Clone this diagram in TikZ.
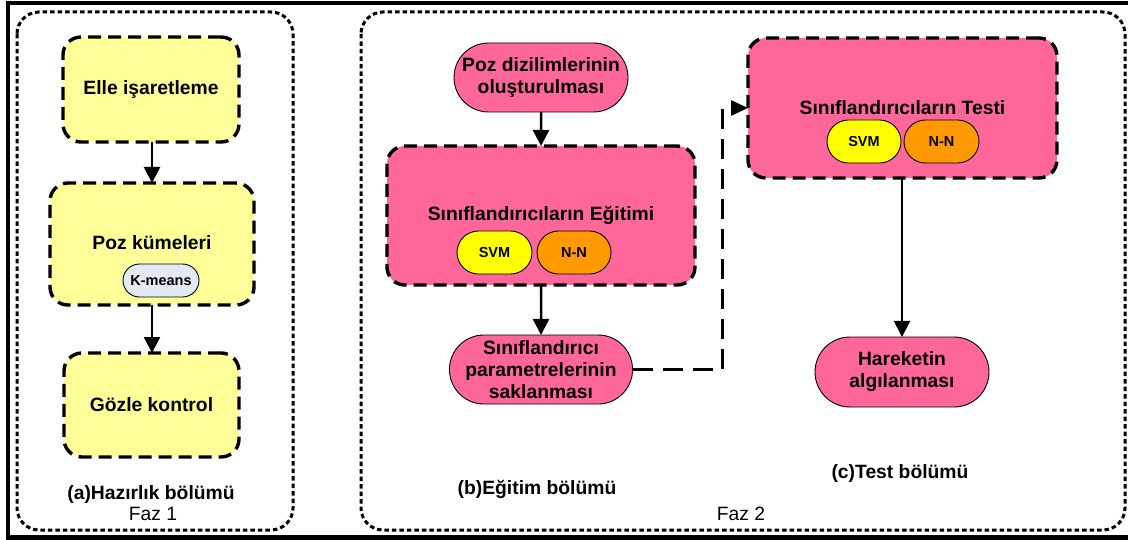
\documentclass[tikz,border=0pt]{standalone}
\usepackage{fontspec}
\setmainfont{Liberation Sans}
\usetikzlibrary{arrows.meta,shapes.misc}

\definecolor{boxyellow}{HTML}{FFFF99}
\definecolor{boxpink}{HTML}{FF6699}
\definecolor{chipyellow}{HTML}{FFFF00}
\definecolor{chiporange}{HTML}{FF9900}
\definecolor{chipblue}{HTML}{E3E9F4}

\newcommand{\mainsize}{\fontsize{19.3}{22}\selectfont}
\newcommand{\chipsize}{\fontsize{14.5}{17}\selectfont}

\tikzset{
  panel/.style={draw, line width=3pt, dash pattern=on 4.5pt off 3pt, rounded corners=22pt},
  stagebox/.style={rectangle, draw, line width=3.4pt, dash pattern=on 13pt off 7pt,
    rounded corners=18pt, inner sep=0pt, outer sep=0pt, align=center,
    font=\mainsize\bfseries},
  yellowbox/.style={stagebox, fill=boxyellow},
  pinkbox/.style={stagebox, fill=boxpink},
  terminal/.style={rounded rectangle, draw, line width=0.9pt, fill=boxpink,
    inner sep=0pt, outer sep=0pt, align=center, font=\mainsize\bfseries,
    minimum width=174pt, minimum height=69pt},
  chip/.style={rounded rectangle, draw, line width=0.9pt, inner sep=0pt,
    minimum width=75pt, minimum height=43pt, font=\chipsize\bfseries},
  flow/.style={line width=2.5pt, -{Triangle[length=16pt,width=16pt]}},
  dashflow/.style={line width=3pt, dash pattern=on 20pt off 10pt,
    -{Triangle[length=17pt,width=15pt]}},
  caption/.style={font=\mainsize\bfseries, inner sep=0pt},
  phase/.style={font=\mainsize, inner sep=0pt},
}

\begin{document}
\begin{tikzpicture}[x=1pt, y=-1pt]
\useasboundingbox (0,0) rectangle (1128,540);

% outer frame (open on the right)
\draw[line width=4.5pt] (1128,3) -- (8,3) -- (8,537.5) -- (1128,537.5);

% phase panels
\draw[panel] (17,12) rectangle (293,530);
\draw[panel] (361,12) rectangle (1125,530);

% ---- Faz 1: preparation ----
\node[yellowbox, minimum width=176pt, minimum height=105pt] (mark) at (151,89.5) {Elle işaretleme};
\node[yellowbox, minimum width=204pt, minimum height=122pt] (clust) at (152,244) {};
\node[font=\mainsize\bfseries, inner sep=0pt] (clusttxt) at (152,243) {Poz kümeleri};
\node[chip, fill=chipblue, minimum width=76pt, minimum height=33pt] (kmeans) at (161,280.5) {K-means};
\node[yellowbox, minimum width=175pt, minimum height=104pt] (check) at (151.5,405) {Gözle kontrol};

\draw[flow] (mark.south -| 152,0) -- (clust.north -| 152,0);
\draw[flow] (clust.south -| 152,0) -- (check.north -| 152,0);

\node[caption] (capa) at (151,495) {(a)Hazırlık bölümü};
\node[phase] (faz1) at (153,514) {Faz 1};

% ---- Faz 2: training ----
\node[terminal] (seq) at (541,77.5) {Poz dizilimlerinin\\oluşturulması};
\node[pinkbox, minimum width=308pt, minimum height=139pt] (train) at (541,215.5) {};
\node[font=\mainsize\bfseries, inner sep=0pt] (traintxt) at (541,215) {Sınıflandırıcıların Eğitimi};
\node[chip, fill=chipyellow] (svma) at (494.5,252.5) {SVM};
\node[chip, fill=chiporange, minimum width=74pt] (nna) at (574,252.5) {N-N};
\node[terminal] (store) at (541,369.5) {Sınıflandırıcı\\parametrelerinin\\saklanması};

\draw[flow] (seq) -- (train);
\draw[flow] (train) -- (store);

\node[caption] (capb) at (537,489) {(b)Eğitim bölümü};

% ---- Faz 2: testing ----
\node[pinkbox, minimum width=309pt, minimum height=140pt] (test) at (902.5,108) {};
\node[font=\mainsize\bfseries, inner sep=0pt] (testtxt) at (902.5,108) {Sınıflandırıcıların Testi};
\node[chip, fill=chipyellow, minimum width=74pt] (svmb) at (864,141.5) {SVM};
\node[chip, fill=chiporange] (nnb) at (941.5,141.5) {N-N};
\node[terminal, minimum height=70pt] (detect) at (902,372) {Hareketin\\algılanması};

\draw[flow, line width=2pt] (test.south -| detect.north) -- (detect.north);

\coordinate (bend) at (722,108);
\draw[dashflow] (store.east) -| (bend) -- (test.west);

\node[caption] (capc) at (900,474) {(c)Test bölümü};
\node[phase] (faz2) at (741,514) {Faz 2};
\end{tikzpicture}
\end{document}
